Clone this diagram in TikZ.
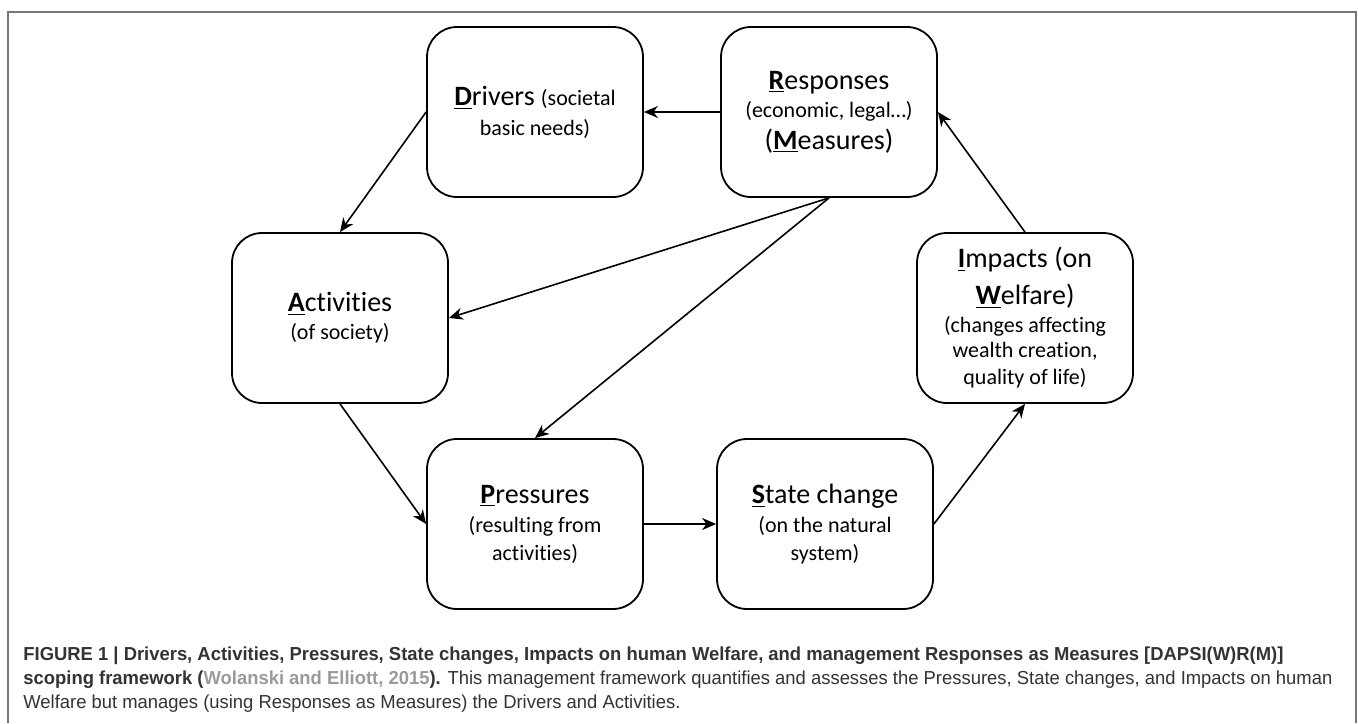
\documentclass[tikz,border=0pt]{standalone}
\usepackage{fontspec}
\setmainfont{Carlito}[Ligatures=CommonOff]
\newfontfamily\captionfont[FakeStretch=0.98]{Liberation Sans}
\usetikzlibrary{arrows.meta}
\definecolor{framegray}{HTML}{777777}
\definecolor{citegray}{HTML}{9A9A9A}
\definecolor{captext}{HTML}{333333}
\newcommand{\initial}[1]{\underline{\textbf{#1}}}
\newcommand{\sm}{\fontsize{11}{13}\selectfont}

\begin{document}
\begin{tikzpicture}
	[x=0.5pt,y=-0.5pt,
	box/.style={draw,line width=0.9pt,rounded corners=15pt,
		minimum width=108pt,minimum height=85pt,inner sep=0pt,
		align=center,font=\fontsize{14}{14}\selectfont},
	link/.style={line width=0.8pt,-{Stealth[length=7pt,width=6pt,inset=2.2pt]}},
	caption/.style={inner sep=0pt,align=left,text=captext,
		font=\captionfont\fontsize{9.4}{12.1}\selectfont}]
	\useasboundingbox (0,0) rectangle (1358,723);
	\draw[framegray,line width=1pt] (8,723) -- (8,12) -- (1356,12) -- (1356,723);

	\node[box] (drivers) at (535,112) {\initial{D}rivers {\sm (societal}\\[1pt]
		\sm basic needs)};
	\node[box] (responses) at (829,112) {\initial{R}esponses\\
		\sm (economic, legal\dots)\\[2pt]
		(\initial{M}easures)};
	\node[box] (activities) at (340,318) {\initial{A}ctivities\\
		\sm (of society)};
	\node[box] (impacts) at (1025,318) {\initial{I}mpacts (on\\[4.5pt]
		\initial{W}elfare)\\
		\sm (changes affecting\\[-1.5pt]
		\sm wealth creation,\\[-0.5pt]
		\sm quality of life)};
	\node[box] (pressures) at (535,524) {\initial{P}ressures\\[0.5pt]
		\sm (resulting from\\
		\sm activities)};
	\node[box] (state) at (825,524) {\initial{S}tate change\\[0.5pt]
		\sm (on the natural\\
		\sm system)};

	\draw[link] (responses) -- (drivers);
	\draw[link] (drivers.west) -- (activities.north);
	\draw[link] (activities.south) -- (pressures.west);
	\draw[link] (pressures) -- (state);
	\draw[link] (state.east) -- (impacts.south);
	\draw[link] (impacts.north) -- (responses.east);
	\draw[link] (responses.south) -- (activities.east);
	\draw[link] (responses.south) -- (pressures.north);

	\node[caption,anchor=north west] (legend) at (23,646)
		{\textbf{FIGURE 1 | Drivers, Activities, Pressures, State changes, Impacts on human Welfare, and management Responses as Measures [DAPSI(W)R(M)]}\\
		\textbf{scoping framework (\textcolor{citegray}{Wolanski and Elliott, 2015}).} This management framework quantifies and assesses the Pressures, State changes, and Impacts on human\\
		Welfare but manages (using Responses as Measures) the Drivers and Activities.};
\end{tikzpicture}
\end{document}
